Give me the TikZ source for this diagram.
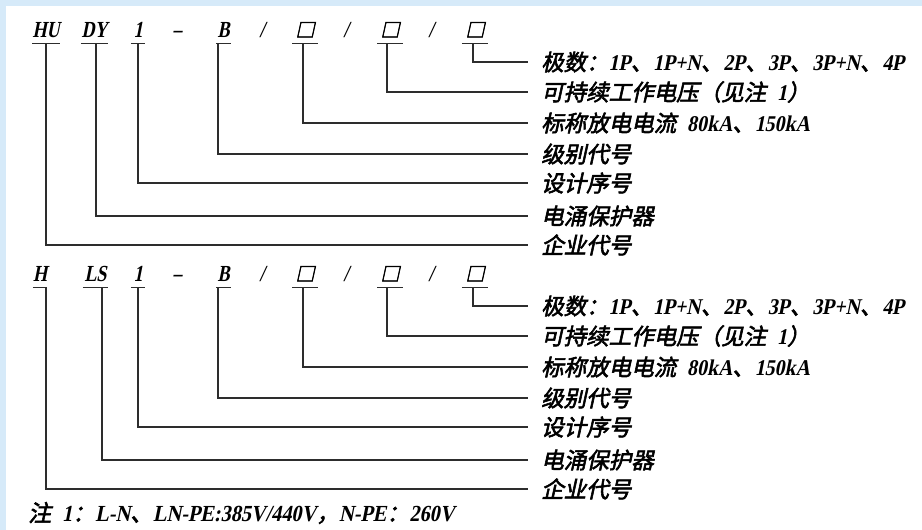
\documentclass[tikz,border=0pt]{standalone}
\usepackage{fontspec}
\usetikzlibrary{calc}
\setmainfont{Liberation Serif}[FakeSlant=0.2, FakeStretch=0.88]
\newfontfamily\codefont{Liberation Serif}[FakeSlant=0.2, FakeStretch=0.78]
\newfontfamily\cjk{Noto Sans CJK SC}[FakeSlant=0.22, FakeBold=2.5]
\newcommand\zh[1]{{\cjk\upshape\mdseries #1}}
\newcommand\hs{\hspace{11pt}}
\newcommand\bx{{\cjk\upshape\mdseries\fontsize{19}{19}\selectfont □}}
\definecolor{band}{RGB}{214,234,249}
\definecolor{ink}{RGB}{45,45,45}
\begin{document}
\begin{tikzpicture}[x=1pt,y=-1pt,
  code/.style={inner sep=0pt, anchor=base, text=black, font=\codefont\fontsize{23}{23}\selectfont\bfseries},
  lbl/.style={anchor=west, inner xsep=13pt, inner ysep=0pt, text=black, font=\fontsize{22.5}{27}\selectfont\bfseries},
  conn/.style={draw=ink, line width=1.1pt},
  uline/.style={draw=ink, line width=1.1pt}]
% background
\path[use as bounding box] (0,0) rectangle (922,530);
\fill[white] (0,0) rectangle (922,530);
\fill[band] (0,0) rectangle (922,6);
\fill[band] (0,0) rectangle (6,530);

% ---------- block 1 ----------
\node[code, minimum width=26pt] (a1) at (46,37) {HU};
\node[code, minimum width=27pt] (a2) at (94.5,37) {DY};
\node[code, minimum width=14pt] (a3) at (138,37) {1};
\node[code] (a4) at (177,37) {–};
\node[code, minimum width=14pt] (a5) at (223.5,37) {B};
\node[code] (s1) at (262,37) {/};
\node[code, minimum width=25pt] (a6) at (305,37) {\bx};
\node[code] (s2) at (346,37) {/};
\node[code, minimum width=25pt] (a7) at (390,37) {\bx};
\node[code] (s3) at (431,37) {/};
\node[code, minimum width=26pt] (a8) at (475,37) {\bx};
\foreach \n in {a1,a2,a3,a5,a6,a7,a8}
  \draw[uline] ($(\n.base west)+(0,6.5)$) -- ($(\n.base east)+(0,6.5)$);

\node[lbl] (b1) at (528,62) {\zh{极数：}1P\zh{、}1P+N\zh{、}2P\zh{、}3P\zh{、}3P+N\zh{、}4P};
\node[lbl] (b2) at (528,92) {\zh{可持续工作电压（见注}\hs 1\zh{）}};
\node[lbl] (b3) at (528,123) {\zh{标称放电电流}\hs 80kA\zh{、}150kA};
\node[lbl] (b4) at (528,154) {\zh{级别代号}};
\node[lbl] (b5) at (528,183) {\zh{设计序号}};
\node[lbl] (b6) at (528,216) {\zh{电涌保护器}};
\node[lbl] (b7) at (528,245) {\zh{企业代号}};

\draw[conn] ($(a8.base)+(-2,6.5)$) |- (b1.west);
\draw[conn] ($(a7.base)+(-3,6.5)$) |- (b2.west);
\draw[conn] ($(a6.base)+(-2,6.5)$) |- (b3.west);
\draw[conn] ($(a5.base)+(-5.5,6.5)$) |- (b4.west);
\draw[conn] ($(a3.base)+(0,6.5)$) |- (b5.west);
\draw[conn] ($(a2.base)+(1.5,6.5)$) |- (b6.west);
\draw[conn] ($(a1.base)+(0,6.5)$) |- (b7.west);

% ---------- block 2 ----------
\node[code, minimum width=14pt] (c1) at (40,281) {H};
\node[code, minimum width=25pt] (c2) at (95.5,281) {LS};
\node[code, minimum width=14pt] (c3) at (138,281) {1};
\node[code] (c4) at (177,281) {–};
\node[code, minimum width=14pt] (c5) at (223.5,281) {B};
\node[code] (t1) at (262,281) {/};
\node[code, minimum width=25pt] (c6) at (305,281) {\bx};
\node[code] (t2) at (346,281) {/};
\node[code, minimum width=25pt] (c7) at (390,281) {\bx};
\node[code] (t3) at (431,281) {/};
\node[code, minimum width=26pt] (c8) at (475,281) {\bx};
\foreach \n in {c1,c2,c3,c5,c6,c7,c8}
  \draw[uline] ($(\n.base west)+(0,6.5)$) -- ($(\n.base east)+(0,6.5)$);

\node[lbl] (d1) at (528,306) {\zh{极数：}1P\zh{、}1P+N\zh{、}2P\zh{、}3P\zh{、}3P+N\zh{、}4P};
\node[lbl] (d2) at (528,336) {\zh{可持续工作电压（见注}\hs 1\zh{）}};
\node[lbl] (d3) at (528,367) {\zh{标称放电电流}\hs 80kA\zh{、}150kA};
\node[lbl] (d4) at (528,398) {\zh{级别代号}};
\node[lbl] (d5) at (528,427) {\zh{设计序号}};
\node[lbl] (d6) at (528,460) {\zh{电涌保护器}};
\node[lbl] (d7) at (528,489) {\zh{企业代号}};

\draw[conn] ($(c8.base)+(-2,6.5)$) |- (d1.west);
\draw[conn] ($(c7.base)+(-3,6.5)$) |- (d2.west);
\draw[conn] ($(c6.base)+(-2,6.5)$) |- (d3.west);
\draw[conn] ($(c5.base)+(-5.5,6.5)$) |- (d4.west);
\draw[conn] ($(c3.base)+(0,6.5)$) |- (d5.west);
\draw[conn] ($(c2.base)+(6.5,6.5)$) |- (d6.west);
\draw[conn] ($(c1.base)+(6,6.5)$) |- (d7.west);

% note
\node[anchor=west, inner sep=0pt, text=black, font=\fontsize{23}{27}\selectfont\bfseries] (note) at (28,513)
  {\zh{注}\hs 1\zh{：}L-N\zh{、}LN-PE:385V/440V\zh{，}N-PE\zh{：}260V};
\end{tikzpicture}
\end{document}
